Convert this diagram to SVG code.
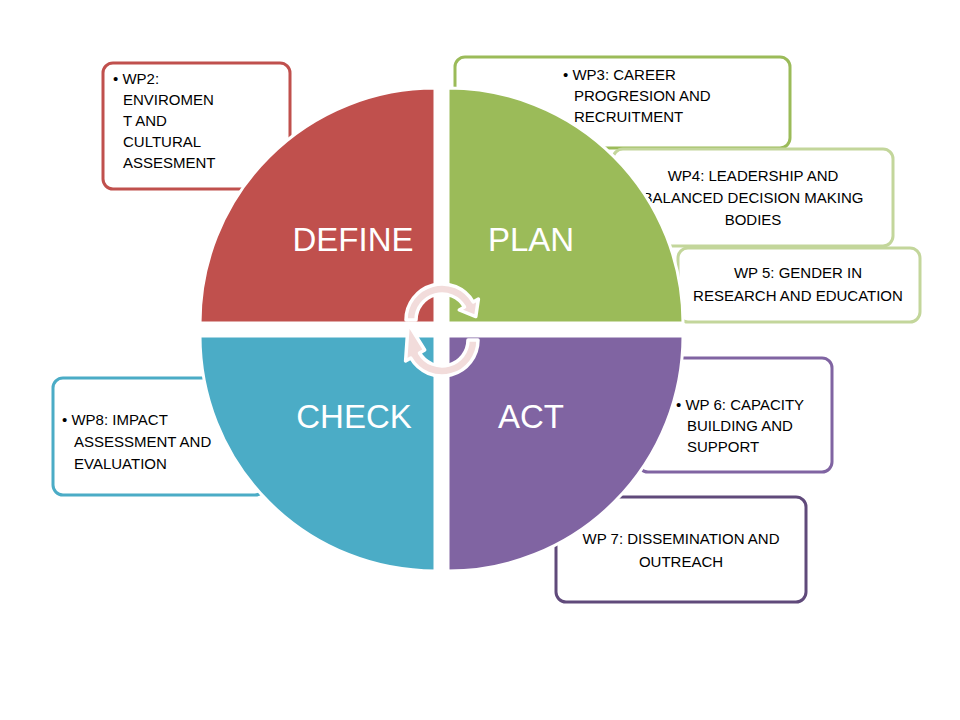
<svg xmlns="http://www.w3.org/2000/svg" width="960" height="720" viewBox="0 0 960 720">
<style>
.box{fill:#fff;stroke-width:3}
.t{font-family:"Liberation Sans",Arial,sans-serif;font-size:15px;fill:#000}
.q{stroke:#fff;stroke-width:3}
.ql{font-family:"Liberation Sans",Arial,sans-serif;font-size:33px;fill:#fff;text-anchor:middle}
.arr{fill:#f2dcdb;stroke:#fff;stroke-width:3.5;stroke-linejoin:round}
</style>
<rect width="960" height="720" fill="#fff"/>
<g id="wp2"><rect class="box" x="103" y="63" width="187" height="126" rx="10" stroke="#C0504D"/>
<text class="t" x="113" y="84">• WP2:</text><text class="t" x="123" y="105">ENVIROMEN</text><text class="t" x="123" y="126">T AND</text><text class="t" x="123" y="147">CULTURAL</text><text class="t" x="123" y="168">ASSESMENT</text></g>
<g id="wp3"><rect class="box" x="455" y="57" width="335" height="91" rx="10" stroke="#9BBB59"/>
<text class="t" x="563" y="80">• WP3: CAREER</text><text class="t" x="574" y="101">PROGRESION AND</text><text class="t" x="574" y="122">RECRUITMENT</text></g>
<g id="wp4"><rect class="box" x="613" y="149" width="280" height="97" rx="10" stroke="#C3D69B"/>
<text class="t" x="753" y="181" text-anchor="middle">WP4: LEADERSHIP AND</text><text class="t" x="753" y="203" text-anchor="middle">BALANCED DECISION MAKING</text><text class="t" x="753" y="225" text-anchor="middle">BODIES</text></g>
<g id="wp5"><rect class="box" x="678" y="248" width="242" height="74" rx="10" stroke="#C3D69B"/>
<text class="t" x="798" y="278" text-anchor="middle">WP 5: GENDER IN</text><text class="t" x="798" y="301" text-anchor="middle">RESEARCH AND EDUCATION</text></g>
<g id="wp6"><rect class="box" x="638" y="358" width="194" height="114" rx="10" stroke="#8064A2"/>
<text class="t" x="676" y="410">• WP 6: CAPACITY</text><text class="t" x="687" y="431">BUILDING AND</text><text class="t" x="687" y="452">SUPPORT</text></g>
<g id="wp7"><rect class="box" x="556" y="497" width="250" height="105" rx="10" stroke="#604A7B"/>
<text class="t" x="681" y="544" text-anchor="middle">WP 7: DISSEMINATION AND</text><text class="t" x="681" y="567" text-anchor="middle">OUTREACH</text></g>
<g id="wp8"><rect class="box" x="53" y="378" width="212" height="117" rx="10" stroke="#4BACC6"/>
<text class="t" x="62" y="425">• WP8: IMPACT</text><text class="t" x="74" y="447">ASSESSMENT AND</text><text class="t" x="74" y="469">EVALUATION</text></g>
<g id="define"><path class="q" d="M435,323 L200,323 A235,235 0 0 1 435,88 Z" fill="#C0504D"/><text class="ql" x="353" y="251">DEFINE</text></g>
<g id="plan"><path class="q" d="M448,323 L448,88 A235,235 0 0 1 683,323 Z" fill="#9BBB59"/><text class="ql" x="531" y="251">PLAN</text></g>
<g id="check"><path class="q" d="M435,336 L435,571 A235,235 0 0 1 200,336 Z" fill="#4BACC6"/><text class="ql" x="354" y="428">CHECK</text></g>
<g id="act"><path class="q" d="M448,336 L683,336 A235,235 0 0 1 448,571 Z" fill="#8064A2"/><text class="ql" x="531" y="428">ACT</text></g>
<g id="connectors">
<path class="arr" d="M406,320 A36,36 0 0 1 473.2,302 L478.4,299 L475.8,316.6 L459.3,310 L464.5,307 A26,26 0 0 0 416,320 Z"/>
<path class="arr" d="M478,340 A36,36 0 0 1 410.8,358 L405.6,361 L408.2,323.4 L424.7,350 L419.5,353 A26,26 0 0 0 468,340 Z"/>
</g>
</svg>
